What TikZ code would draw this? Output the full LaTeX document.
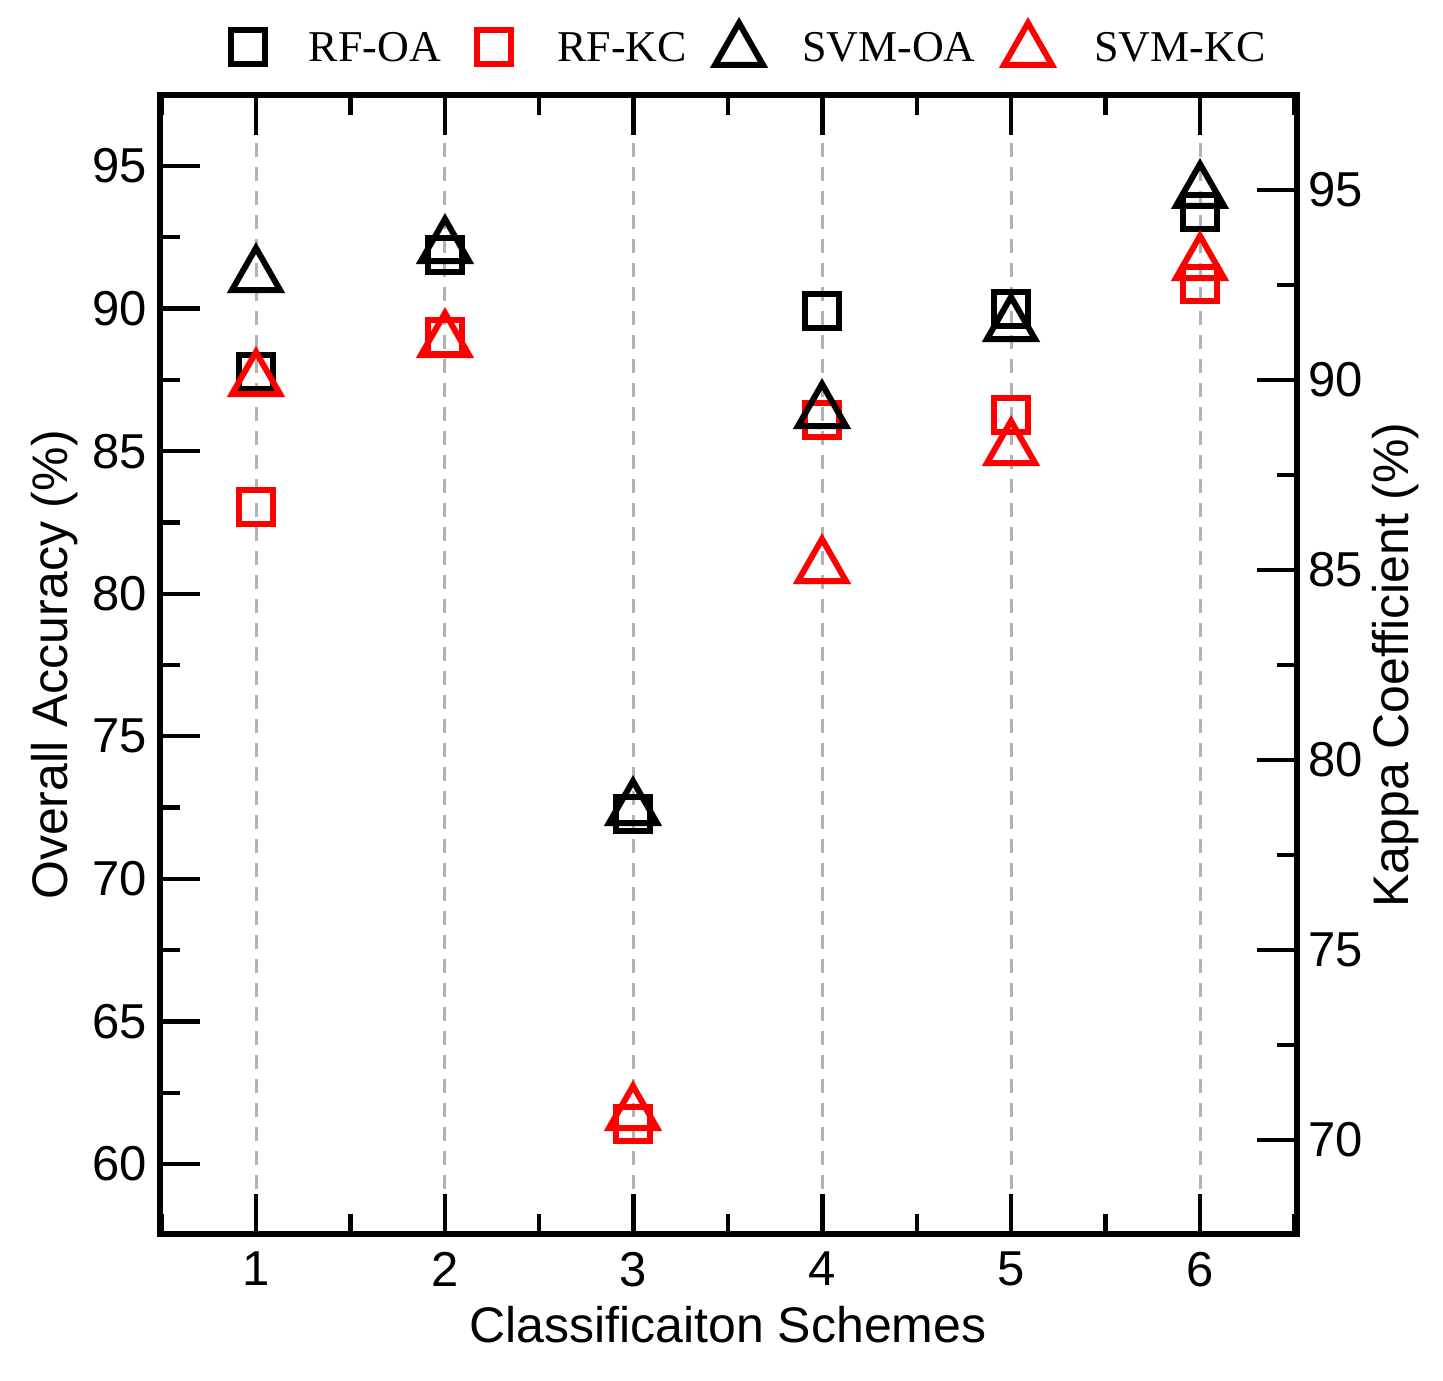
\documentclass[tikz,border=0pt]{standalone}
\usepackage{fontspec}
\setmainfont{Liberation Sans}
\newfontfamily\legfont{Liberation Serif}
\begin{document}
\begin{tikzpicture}[x=0.5pt,y=-0.5pt,
  sq/.style={line width=3pt},
  tri/.style={line width=3pt,line join=miter},
  tick/.style={line width=2.2pt},
  num/.style={font=\fontsize{24.5}{28}\selectfont},
  lab/.style={font=\fontsize{25}{28}\selectfont},
  leg/.style={font=\legfont\fontsize{22}{26}\selectfont}]
\useasboundingbox (0,0) rectangle (1443,1380);
% grid
\foreach \i in {0,...,5} {
  \pgfmathsetmacro\xx{256+188.8*\i}
  \draw[gray!60,line width=1.5pt,dash pattern=on 7pt off 5pt] (\xx,95) -- (\xx,1234);
  \draw[tick] (\xx,1234) -- (\xx,1194);
  \draw[tick] (\xx,95) -- (\xx,135);
  \node[num,anchor=north] (bx\i) at (\xx,1245) {\pgfmathparse{int(\i+1)}\pgfmathresult};
}
\foreach \i in {0,...,6} {
  \pgfmathsetmacro\xx{256+188.8*\i-94.4}
  \draw[tick] (\xx,1234) -- (\xx,1214);
  \draw[tick] (\xx,95) -- (\xx,115);
}
% left axis
\foreach \v in {60,65,...,95} {
  \pgfmathsetmacro\yy{1164-28.514*(\v-60)}
  \draw[tick] (160,\yy) -- (200,\yy);
  \node[num,anchor=east] (l\v) at (154,\yy) {\v};
}
\foreach \v in {62.5,67.5,...,97.5} {
  \pgfmathsetmacro\yy{1164-28.514*(\v-60)}
  \draw[tick] (160,\yy) -- (180,\yy);
}
% right axis
\foreach \v in {70,75,...,95} {
  \pgfmathsetmacro\yy{1140-38*(\v-70)}
  \draw[tick] (1297,\yy) -- (1257,\yy);
  \node[num,anchor=west] (r\v) at (1301,\yy) {\v};
}
\foreach \v in {67.5,72.5,...,97.5} {
  \pgfmathsetmacro\yy{1140-38*(\v-70)}
  \draw[tick] (1297,\yy) -- (1277,\yy);
}
\draw[line width=3pt] (160,95) rectangle (1297,1234);
% labels
\node[lab,rotate=90] (yl) at (55,665) {Overall Accuracy (\%)};
\node[lab,rotate=90] (yr) at (1396,665) {Kappa Coefficient (\%)};
\node[lab] (xl) at (728,1325) {Classificaiton Schemes};
% markers
\newcommand\msq[3]{\draw[sq,#3] (#1-17,#2-17) rectangle (#1+17,#2+17);}
\newcommand\mtri[3]{\draw[tri,#3] (#1-24,#2+18) -- (#1+24,#2+18) -- (#1,#2-24) -- cycle;}
\msq{256}{372}{black}\msq{445}{255}{black}\msq{633}{814}{black}\msq{822}{311}{black}\msq{1011}{309}{black}\msq{1200}{212}{black}
\msq{256}{507}{red}\msq{445}{337}{red}\msq{633}{1124}{red}\msq{822}{420}{red}\msq{1011}{415}{red}\msq{1200}{284}{red}
\mtri{256}{272}{black}\mtri{445}{243}{black}\mtri{633}{805}{black}\mtri{822}{408}{black}\mtri{1011}{321}{black}\mtri{1200}{188}{black}
\mtri{256}{376}{red}\mtri{445}{337}{red}\mtri{633}{1110}{red}\mtri{822}{563}{red}\mtri{1011}{445}{red}\mtri{1200}{260}{red}
% legend
\msq{248}{47}{black}\msq{494}{47}{red}\mtri{739}{47}{black}\mtri{1028}{47}{red}
\node[leg] (k1) at (375,47) {RF-OA};
\node[leg] (k2) at (622,47) {RF-KC};
\node[leg] (k3) at (889,47) {SVM-OA};
\node[leg] (k4) at (1180,47) {SVM-KC};
\end{tikzpicture}
\end{document}
